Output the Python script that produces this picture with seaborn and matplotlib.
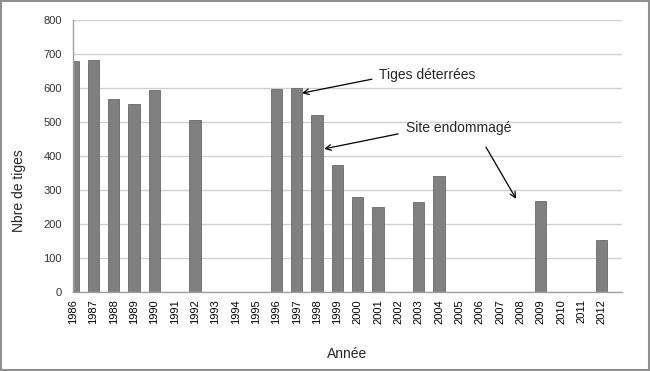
import pandas as pd
import matplotlib.pyplot as plt
import matplotlib.patches as mpatches
import seaborn as sns

# données
ANNEES = [str(a) for a in range(1986, 2013)]
ANNEES_MESUREES = ["1986", "1987", "1988", "1989", "1990", "1992", "1996", "1997",
                   "1998", "1999", "2000", "2001", "2003", "2004", "2009", "2012"]
NB_TIGES = [680, 682, 568, 553, 594, 506, 597, 600,
            522, 373, 280, 251, 266, 340, 268, 154]

BAR_GREY = "#808080"
EDGE_GREY = "#6a6a6a"
GRID_GREY = "#d0d0d0"
TEXT_GREY = "#333333"

sns.set_style("white")
plt.rcParams["font.family"] = ["Liberation Sans", "DejaVu Sans"]

df = pd.DataFrame({"annee": ANNEES_MESUREES, "tiges": NB_TIGES})

fig = plt.figure(figsize=(6.5, 3.71), dpi=100)
ax = fig.add_axes([0.1123, 0.213, 0.8447, 0.733])

sns.barplot(data=df, x="annee", y="tiges", order=ANNEES, color=BAR_GREY,
            width=0.55, saturation=1, edgecolor=EDGE_GREY, linewidth=0.6, ax=ax)

ax.set_xlim(0, 27)
ax.set_ylim(0, 800)
ax.set_yticks(range(0, 801, 100))
ax.yaxis.grid(True, color=GRID_GREY, linewidth=1)
ax.set_axisbelow(True)

for side in ["top", "right"]:
    ax.spines[side].set_visible(False)
for side in ["left", "bottom"]:
    ax.spines[side].set_color("#a0a0a0")
    ax.spines[side].set_linewidth(1)

ax.tick_params(axis="x", rotation=90, labelsize=8, colors="#a0a0a0",
               labelcolor="black", length=3, pad=2)
ax.tick_params(axis="y", labelsize=8, colors="#a0a0a0",
               labelcolor=TEXT_GREY, length=3, pad=5)
for lbl in ax.get_xticklabels():
    lbl.set_clip_on(False)

ax.set_xlabel("Année", fontsize=10, labelpad=17)
ax.set_ylabel("Nbre de tiges", fontsize=10)
ax.yaxis.set_label_coords(-0.086, 0.371)

arrow = dict(arrowstyle="->", color="black", lw=0.9, shrinkA=0, shrinkB=0)
ax.text(15.05, 638, "Tiges déterrées", fontsize=10, va="center", ha="left")
ax.annotate("", xy=(11.26, 585), xytext=(14.7, 626), arrowprops=arrow)
ax.text(16.38, 482, "Site endommagé", fontsize=10, va="center", ha="left")
ax.annotate("", xy=(12.35, 421), xytext=(15.99, 465), arrowprops=arrow)
ax.annotate("", xy=(21.79, 274), xytext=(20.31, 426), arrowprops=arrow)

# cadre gris autour de la figure
fig.patches.append(mpatches.Rectangle((0.002, 0.003), 0.996, 0.994,
                                      transform=fig.transFigure, fill=False,
                                      edgecolor="#909090", linewidth=1.5))

fig.savefig("out.png", dpi=100)
